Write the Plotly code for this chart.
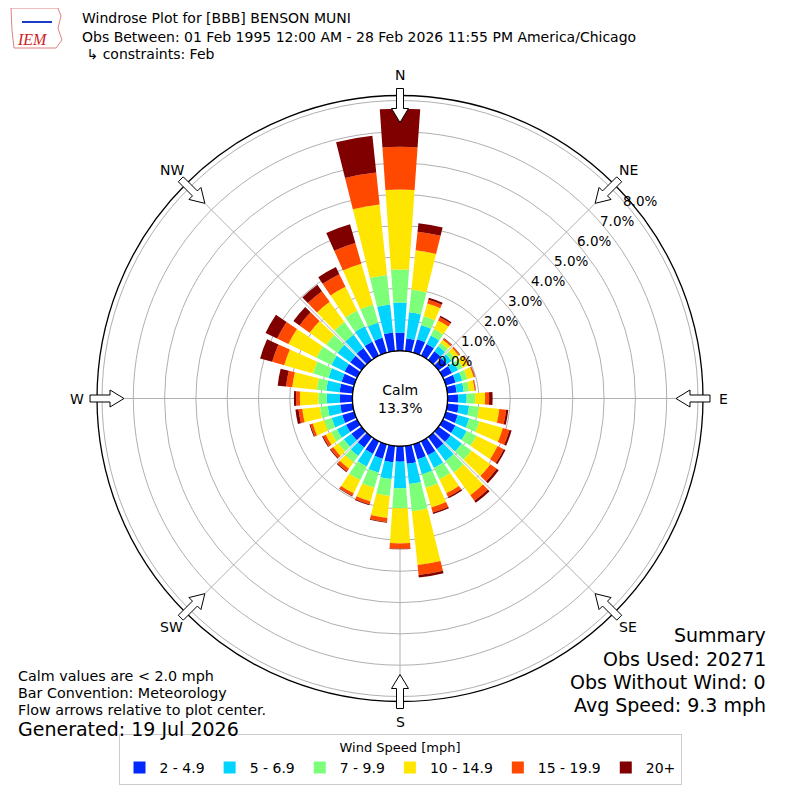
import math
import plotly.graph_objects as go

# wind directions (deg, meteorological) and speed bins
directions = [0, 10, 20, 30, 40, 50, 60, 70, 80, 90, 100, 110, 120, 130, 140, 150, 160, 170,
              180, 190, 200, 210, 220, 230, 240, 250, 260, 270, 280, 290, 300, 310, 320, 330, 340, 350]
speed_bins = ['2 - 4.9', '5 - 6.9', '7 - 9.9', '10 - 14.9', '15 - 19.9', '20+']
bin_colors = ['#0029ff', '#00d4ff', '#7dff7a', '#ffe600', '#ff4800', '#800000']

# frequency (%) per direction for each speed bin
freq_2_5 = [0.58, 0.41, 0.45, 0.42, 0.35, 0.33, 0.33, 0.33, 0.30, 0.34, 0.37, 0.40, 0.45, 0.48, 0.48, 0.50, 0.50, 0.58,
            0.50, 0.53, 0.48, 0.45, 0.42, 0.40, 0.40, 0.40, 0.40, 0.40, 0.42, 0.42, 0.45, 0.45, 0.47, 0.50, 0.50, 0.60]
freq_5_7 = [0.97, 0.84, 0.47, 0.30, 0.20, 0.19, 0.22, 0.22, 0.23, 0.27, 0.33, 0.38, 0.40, 0.44, 0.47, 0.45, 0.50, 0.65,
            0.85, 0.54, 0.47, 0.45, 0.33, 0.30, 0.32, 0.35, 0.40, 0.42, 0.43, 0.44, 0.47, 0.50, 0.53, 0.55, 0.50, 0.90]
freq_7_10 = [1.05, 0.72, 0.29, 0.23, 0.13, 0.13, 0.15, 0.17, 0.17, 0.27, 0.32, 0.34, 0.35, 0.38, 0.45, 0.40, 0.45, 0.87,
             0.64, 0.54, 0.50, 0.48, 0.25, 0.22, 0.21, 0.25, 0.25, 0.27, 0.30, 0.51, 0.53, 0.45, 0.50, 0.55, 0.60, 0.95]
freq_10_15 = [2.56, 1.27, 0.43, 0.30, 0.12, 0.15, 0.20, 0.21, 0.18, 0.32, 0.65, 0.78, 0.75, 0.75, 0.90, 0.50, 0.65, 1.73,
              1.12, 0.71, 0.45, 0.47, 0.25, 0.20, 0.19, 0.38, 0.57, 0.59, 0.79, 0.96, 1.00, 0.65, 0.80, 0.85, 1.36, 2.26]
freq_15_20 = [1.36, 0.60, 0.12, 0.12, 0.05, 0.05, 0.04, 0.04, 0.03, 0.13, 0.22, 0.22, 0.22, 0.25, 0.22, 0.13, 0.17, 0.32,
              0.17, 0.13, 0.10, 0.09, 0.11, 0.10, 0.10, 0.08, 0.12, 0.12, 0.20, 0.40, 0.40, 0.40, 0.42, 0.45, 0.69, 1.03]
freq_20_up = [1.22, 0.27, 0.07, 0.05, 0.02, 0.01, 0.01, 0.01, 0.01, 0.11, 0.07, 0.07, 0.06, 0.08, 0.08, 0.05, 0.05, 0.08,
              0.02, 0.02, 0.03, 0.02, 0.03, 0.03, 0.03, 0.03, 0.10, 0.07, 0.27, 0.40, 0.41, 0.24, 0.25, 0.25, 0.62, 1.18]

compass_angles = [0, 45, 90, 135, 180, 225, 270, 315]
compass_labels = ['N', 'NE', 'E', 'SE', 'S', 'SW', 'W', 'NW']
radial_ticks = [0, 1, 2, 3, 4, 5, 6, 7, 8]
radial_labels = ['0.0%', '1.0%', '2.0%', '3.0%', '4.0%', '5.0%', '6.0%', '7.0%', '8.0%']
r_max = 8.16

W = H = 792          # the page adds an 8px body margin
CX, CY = 392, 390.5  # plot centre in figure px
R_OUT = 303
HOLE = 0.157
PX_PER_PCT = R_OUT * (1 - HOLE) / r_max


def px(x, y):
    return x / W, 1 - y / H


def polar_px(ang, u, v=0.0):
    t = math.radians(ang)
    return (CX + u * math.sin(t) + v * math.cos(t),
            CY - u * math.cos(t) + v * math.sin(t))


fig = go.Figure()

all_bins = [freq_2_5, freq_5_7, freq_7_10, freq_10_15, freq_15_20, freq_20_up]
for name, vals, color in zip(speed_bins, all_bins, bin_colors):
    fig.add_trace(go.Barpolar(r=vals, theta=directions, width=8, name=name,
                              marker=dict(color=color, line=dict(width=0))))

# calm circle edge
calm_theta = list(range(0, 361, 5))
fig.add_trace(go.Scatterpolar(r=[0] * len(calm_theta), theta=calm_theta, mode='lines',
                              line=dict(color='black', width=1.3), showlegend=False, hoverinfo='skip'))

fig.update_layout(
    width=W, height=H,
    margin=dict(l=0, r=0, t=0, b=0),
    paper_bgcolor='white',
    font=dict(family='DejaVu Sans', color='black'),
    polar=dict(
        domain=dict(x=[(CX - R_OUT) / W, (CX + R_OUT) / W],
                    y=[1 - (CY + R_OUT) / H, 1 - (CY - R_OUT) / H]),
        hole=HOLE,
        bgcolor='white',
        barmode='stack',
        radialaxis=dict(range=[0, r_max], tickvals=radial_ticks, showticklabels=False,
                        showline=False, ticks='', gridcolor='#b0b0b0', layer='above traces'),
        angularaxis=dict(rotation=90, direction='clockwise', tickvals=compass_angles,
                         showticklabels=False, gridcolor='#b0b0b0', showline=True,
                         linecolor='black', linewidth=1.3, ticks='', layer='above traces'),
    ),
    legend=dict(orientation='h', x=392 / W, xanchor='center', y=px(0, 777)[1], yanchor='bottom',
                title=dict(text='Wind Speed [mph]', side='top center', font=dict(size=13)),
                bordercolor='#cccccc', borderwidth=1, font=dict(size=14),
                traceorder='normal'),
)

# radial percentage labels along a ray
for val, lab in zip(radial_ticks, radial_labels):
    lx, ly = polar_px(49.2, R_OUT * HOLE + val * 30.6)
    xx, yy = px(lx, ly + 4)
    fig.add_annotation(text=lab, x=xx, y=yy, xref='paper', yref='paper', showarrow=False,
                       xanchor='left', yanchor='bottom', font=dict(size=13.5))

# compass labels outside the rim
for ang, lab in zip(compass_angles, compass_labels):
    xx, yy = px(*polar_px(ang, 323))
    fig.add_annotation(text=lab, x=xx, y=yy, xref='paper', yref='paper', showarrow=False,
                       xanchor='center', yanchor='middle', font=dict(size=14))

# flow arrows on the rim (outline shapes pointing to the centre)
arrow_outline = [(276, 0), (290, 8.5), (290, 3.5), (310, 3.5), (310, -3.5), (290, -3.5), (290, -8.5)]
for ang in compass_angles:
    pts = [px(*polar_px(ang, u, v)) for u, v in arrow_outline]
    path = 'M ' + ' L '.join(f'{a:.5f} {b:.5f}' for a, b in pts) + ' Z'
    fig.add_shape(type='path', xref='paper', yref='paper', path=path,
                  line=dict(color='black', width=1), fillcolor='white')

notes = [
    ('Windrose Plot for [BBB] BENSON MUNI', 72, 10, 14),
    ('Obs Between: 01 Feb 1995 12:00 AM - 28 Feb 2026 11:55 PM America/Chicago', 72, 29, 14),
    (' ↳ constraints: Feb', 72, 46, 14),
    ('Calm values are < 2.0 mph', 8, 668, 14.3),
    ('Bar Convention: Meteorology', 8, 685, 14.3),
    ('Flow arrows relative to plot center.', 8, 702, 14.3),
    ('Generated: 19 Jul 2026', 8, 721, 19),
]
for txt, x, y, size in notes:
    xx, yy = px(x, y)
    fig.add_annotation(text=txt, x=xx, y=yy, xref='paper', yref='paper', xanchor='left',
                       yanchor='middle', showarrow=False, font=dict(size=size))

summary = ['Summary', 'Obs Used: 20271', 'Obs Without Wind: 0', 'Avg Speed: 9.3 mph']
summary_y = [627, 651, 674, 697]
for txt, y in zip(summary, summary_y):
    xx, yy = px(760, y)
    fig.add_annotation(text=txt, x=xx, y=yy, xref='paper', yref='paper', xanchor='right',
                       yanchor='middle', showarrow=False, font=dict(size=19))

cx, cy = px(CX, CY)
fig.add_annotation(text='Calm<br>13.3%', x=cx, y=cy, xref='paper', yref='paper',
                   showarrow=False, font=dict(size=14))

# IEM logo (simplified)
logo = [(3, 0), (50, 0), (53, 8), (50, 20), (54, 32), (48, 40), (6, 40), (4, 22)]
fig.add_shape(type='path', xref='paper', yref='paper',
              path='M ' + ' L '.join('%.5f %.5f' % px(a, b) for a, b in logo) + ' Z',
              line=dict(color='#e08080', width=1), fillcolor='white')
lx0, ly0 = px(14, 14)
lx1, ly1 = px(44, 14)
fig.add_shape(type='line', xref='paper', yref='paper', x0=lx0, x1=lx1, y0=ly0, y1=ly1,
              line=dict(color='#1a3cc8', width=2))
tx, ty = px(7, 31)
fig.add_annotation(text='<i>IEM</i>', x=tx, y=ty, xref='paper', yref='paper', showarrow=False,
                   xanchor='left', yanchor='middle',
                   font=dict(family='Liberation Serif', size=16, color='#d02020'))

fig.write_html('out.html')
